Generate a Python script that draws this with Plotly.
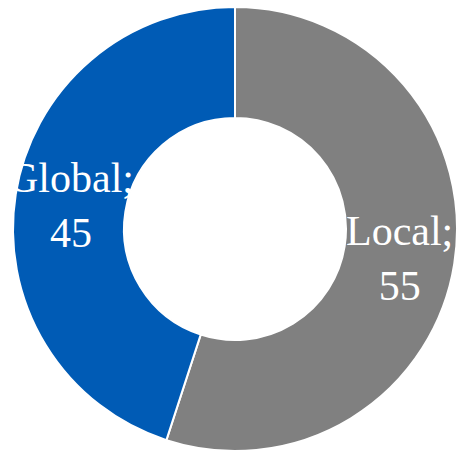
import math
import plotly.graph_objects as go

labels = ["Local", "Global"]
values = [55, 45]
colors = ["#808080", "#005BB5"]

W, H = 460, 455
cx, cy, R = 235, 229, 222
hole = 0.5

fig = go.Figure(go.Pie(
    labels=labels, values=values, sort=False, direction="clockwise", rotation=0,
    hole=hole, marker=dict(colors=colors, line=dict(color="white", width=2)),
    textinfo="none", hoverinfo="label+value", showlegend=False,
    domain=dict(x=[(cx - R) / W, (cx + R) / W], y=[1 - (cy + R) / H, 1 - (cy - R) / H]),
))

total = sum(values)
cum = 0
annotations = []
for lab, v in zip(labels, values):
    mid = (cum + v / 2) / total * 2 * math.pi
    cum += v
    r = 0.75 * R
    px = cx + r * math.sin(mid)
    py = cy - r * math.cos(mid) + 3
    annotations.append(dict(
        x=px / W, y=1 - py / H, xref="paper", yref="paper",
        text=f"{lab};<br>{v}", showarrow=False, xanchor="center", yanchor="middle",
        font=dict(family="Liberation Serif", size=42, color="white"),
    ))

fig.update_layout(
    width=W, height=H, margin=dict(l=0, r=0, t=0, b=0),
    paper_bgcolor="white", plot_bgcolor="white", annotations=annotations,
)
fig.write_html("out.html")
